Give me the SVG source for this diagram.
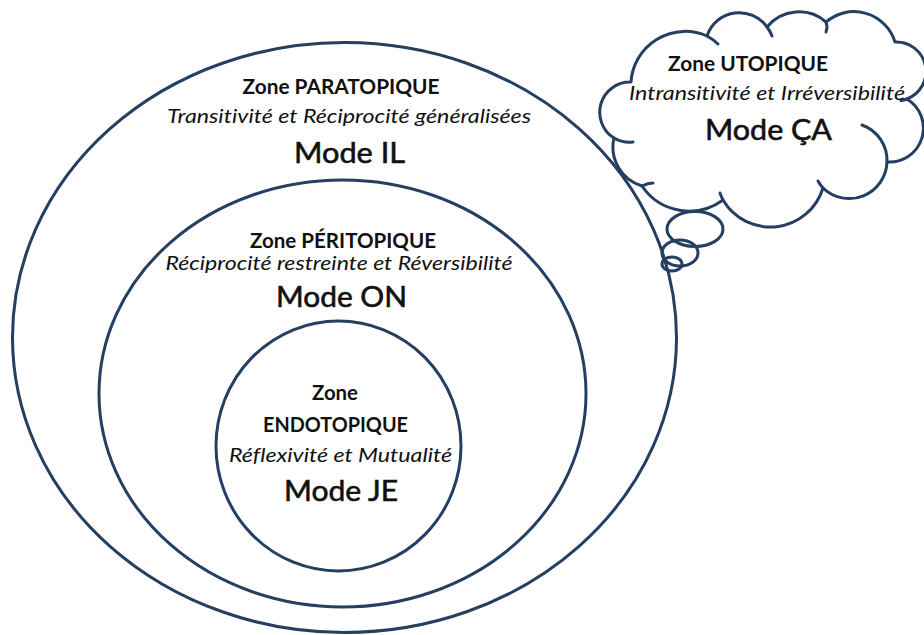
<svg xmlns="http://www.w3.org/2000/svg" width="924" height="635" viewBox="0 0 924 635">
  <style>
    .ring { fill: none; stroke: #243F60; stroke-width: 3; }
    .cloud { fill: #FFFFFF; stroke: #243F60; stroke-width: 3; stroke-linejoin: round; }
    .tail { fill: none; stroke: #243F60; stroke-width: 3; stroke-linecap: round; }
    .bubble { fill: none; stroke: #243F60; stroke-width: 3; }
    text { font-family: Lato, "Open Sans", "Liberation Sans", sans-serif; fill: #111111; text-anchor: middle; font-variant-ligatures: none; font-feature-settings: "liga" 0, "clig" 0; }
    .zone { font-size: 20px; font-weight: bold; }
    .prop { font-size: 20px; font-style: italic; }
    .mode { font-size: 29px; font-weight: normal; stroke: #111111; stroke-width: 0.6px; }
  </style>
  <rect x="0" y="0" width="924" height="635" fill="#FFFFFF"/>

  <g id="zone-paratopique">
    <ellipse class="ring" cx="344.5" cy="337.5" rx="332" ry="295"/>
    <text class="zone" x="341" y="94" textLength="197" lengthAdjust="spacingAndGlyphs">Zone PARATOPIQUE</text>
    <text class="prop" x="349" y="123" textLength="364" lengthAdjust="spacingAndGlyphs">Transitivité et Réciprocité généralisées</text>
    <text class="mode" x="349.5" y="163" textLength="111" lengthAdjust="spacingAndGlyphs">Mode IL</text>
  </g>

  <g id="zone-peritopique">
    <ellipse class="ring" cx="342.5" cy="393.5" rx="243.5" ry="213.5"/>
    <text class="zone" x="343" y="248" textLength="186" lengthAdjust="spacingAndGlyphs">Zone PÉRITOPIQUE</text>
    <text class="prop" x="339" y="270" textLength="347" lengthAdjust="spacingAndGlyphs">Réciprocité restreinte et Réversibilité</text>
    <text class="mode" x="341.5" y="307" textLength="131" lengthAdjust="spacingAndGlyphs">Mode ON</text>
  </g>

  <g id="zone-endotopique">
    <ellipse class="ring" cx="338.5" cy="446" rx="122.5" ry="125"/>
    <text class="zone" x="335" y="400" textLength="46" lengthAdjust="spacingAndGlyphs">Zone</text>
    <text class="zone" x="335.5" y="432" textLength="145" lengthAdjust="spacingAndGlyphs">ENDOTOPIQUE</text>
    <text class="prop" x="340.5" y="462" textLength="223" lengthAdjust="spacingAndGlyphs">Réflexivité et Mutualité</text>
    <text class="mode" x="341" y="501" textLength="114" lengthAdjust="spacingAndGlyphs">Mode JE</text>
  </g>

  <g id="zone-utopique">
    <g id="thought-bubbles">
      <ellipse class="bubble" cx="695" cy="229" rx="28" ry="17.5"/>
      <ellipse class="bubble" cx="680" cy="253" rx="18" ry="13"/>
      <ellipse class="bubble" cx="672" cy="264" rx="10" ry="7"/>
    </g>
    <path class="cloud" d="M614,138 A30.3,30.3 0 0 1 631,82 A54.2,54.2 0 0 1 707,36 A34,34 0 0 1 767,27 A41.3,41.3 0 0 1 826,22 A42.9,42.9 0 0 1 895,42 A29.5,29.5 0 0 1 907,99 A34,34 0 0 1 887,162 A37.8,37.8 0 0 1 823,188 A55,55 0 0 1 723,200 A57,57 0 0 1 642,186 A40.5,40.5 0 0 1 614,138 Z"/>
    <path class="tail" d="M707,36 A54.2,54.2 0 0 1 718,44"/>
    <path class="tail" d="M767,27 A34,34 0 0 1 772,36"/>
    <path class="tail" d="M826,22 Q828,27 826,32"/>
    <path class="tail" d="M907,99 A29.5,29.5 0 0 1 901,100.5"/>
    <path class="tail" d="M862,125 A37.8,37.8 0 0 1 887,162"/>
    <path class="tail" d="M823,188 A37.8,37.8 0 0 1 818,181"/>
    <path class="tail" d="M723,200 A55,55 0 0 1 720,193"/>
    <path class="tail" d="M642,186 Q648,183 653,183"/>
    <path class="tail" d="M614,138 A30.3,30.3 0 0 0 633,142"/>
    <text class="zone" x="748" y="71" textLength="160" lengthAdjust="spacingAndGlyphs">Zone UTOPIQUE</text>
    <text class="prop" x="767" y="100" textLength="276" lengthAdjust="spacingAndGlyphs">Intransitivité et Irréversibilité</text>
    <text class="mode" x="768.5" y="140" textLength="127" lengthAdjust="spacingAndGlyphs">Mode ÇA</text>
  </g>
</svg>
